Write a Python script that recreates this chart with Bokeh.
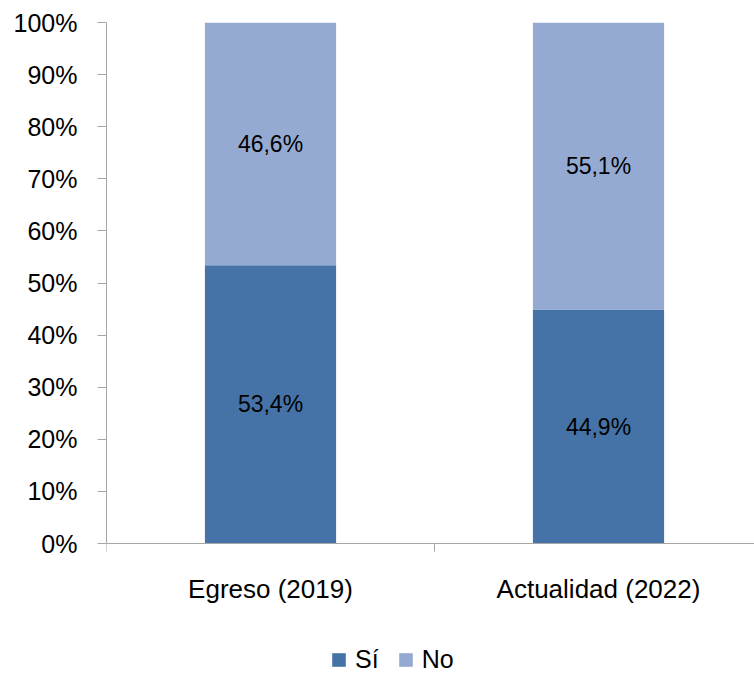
from bokeh.plotting import figure
from bokeh.models import (ColumnDataSource, FixedTicker, Legend, LegendItem,
                          Range1d, LabelSet)
from bokeh.core.properties import value
from bokeh.embed import file_html
from bokeh.resources import INLINE

# ---- data ----
categories = ["Egreso (2019)", "Actualidad (2022)"]
si = [53.4, 44.9]
no = [46.6, 55.1]
series_names = ["Sí", "No"]
y_ticks = list(range(0, 101, 10))

# ---- style / layout ----
FONT = "Liberation Sans"
C_SI = "#4573a7"
C_NO = "#95aad3"
AXIS_C = "#a6a6a6"
TOP, PLOT_H, BELOW_H = 22, 521, 131   # px: top border, 0..100 span, space below axis
LEFT, FRAME_W, CAT_W = 106, 648, 328  # px

xs = [i + 0.5 for i in range(len(categories))]
source = ColumnDataSource(dict(x=xs, si=si, no=no))

p = figure(frame_width=FRAME_W, frame_height=PLOT_H + BELOW_H,
           output_backend="svg", toolbar_location=None,
           min_border_left=LEFT, min_border_right=0,
           min_border_top=TOP, min_border_bottom=0,
           x_range=Range1d(0, FRAME_W / CAT_W),
           y_range=Range1d(-100 * BELOW_H / PLOT_H, 100))
p.outline_line_color = None
p.xgrid.visible = False
p.ygrid.visible = False

r = p.vbar_stack(["si", "no"], x="x", width=0.4, source=source,
                 color=[C_SI, C_NO], line_color=None)

# data labels
lab_x, lab_y, lab_t = [], [], []
for i, x in enumerate(xs):
    base = 0
    for vals in (si, no):
        v = vals[i]
        lab_x.append(x)
        lab_y.append(base + v / 2)
        lab_t.append(f"{v:.1f}".replace(".", ",") + "%")
        base += v
lsrc = ColumnDataSource(dict(x=lab_x, y=lab_y, t=lab_t))
p.add_layout(LabelSet(x="x", y="y", text="t", source=lsrc,
                      text_align="center", text_baseline="middle",
                      text_font=value(FONT), text_font_size="23px",
                      text_color="black"))

# y axis
ya = p.yaxis[0]
ya.bounds = (0, 100)
ya.ticker = FixedTicker(ticks=y_ticks)
ya.major_label_overrides = {t: f"{t}%" for t in y_ticks}
ya.major_label_text_font = FONT
ya.major_label_text_font_size = "25px"
ya.major_label_text_color = "black"
ya.major_label_standoff = 20
ya.major_tick_in = 0
ya.major_tick_out = 9
ya.major_tick_line_color = AXIS_C
ya.axis_line_color = AXIS_C
ya.minor_tick_line_color = None

# x axis at y = 0: labels at category centers, tick marks at category boundaries
xa = p.xaxis[0]
xa.fixed_location = 0
xa.ticker = FixedTicker(ticks=xs, minor_ticks=list(range(len(categories) + 1)))
xa.major_label_overrides = {x: c for x, c in zip(xs, categories)}
xa.major_label_text_font = FONT
xa.major_label_text_font_size = "26px"
xa.major_label_text_color = "black"
xa.major_label_standoff = 22
xa.major_tick_line_color = None
xa.major_tick_in = 0
xa.major_tick_out = 0
xa.minor_tick_in = 0
xa.minor_tick_out = 8
xa.minor_tick_line_color = AXIS_C
xa.axis_line_color = AXIS_C

legend = Legend(items=[LegendItem(label=n, renderers=[rr])
                       for n, rr in zip(series_names, r)],
                location=(224, 0), orientation="horizontal",
                glyph_width=17, glyph_height=17, label_standoff=8,
                spacing=18, label_text_font=FONT, label_text_color="black",
                label_text_font_size="25px", border_line_color=None,
                background_fill_alpha=0, padding=0, margin=0)
p.add_layout(legend)

open("out.html", "w").write(file_html(p, INLINE))
